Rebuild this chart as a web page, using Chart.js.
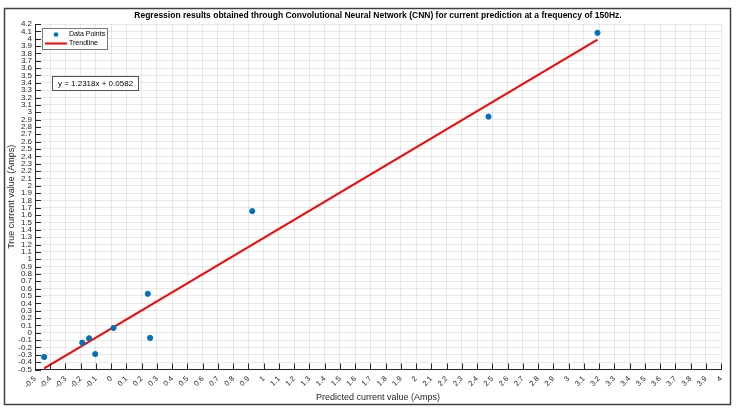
<!DOCTYPE html>
<html>
<head>
<meta charset="utf-8">
<script src="https://cdn.jsdelivr.net/npm/chart.js@4.4.1/dist/chart.umd.min.js"></script>
<style>
html, body { margin: 0; padding: 0; background: #fff; }
</style>
</head>
<body>
<canvas id="graphCanvas" width="736" height="412"></canvas>
<script>
// values
const predicted = [-0.44, -0.19, -0.145, -0.105, 0.015, 0.24, 0.255, 0.925, 2.475, 3.19];
const actual = [-0.33, -0.135, -0.075, -0.29, 0.065, 0.53, -0.07, 1.655, 2.94, 4.08];
const trendX = [-0.44, 3.19];
const trendY = [-0.484, 3.988];
const equationText = 'y = 1.2318x + 0.0582';

const FONT = '"Liberation Sans", Arial, Helvetica, sans-serif';
const AXIS = '#262626';

function fmt(v) {
    return String(Number(v.toFixed(1)));
}

// frame, title, legend, equation box and inward tick marks
const extras = {
    id: 'extras',
    afterDraw(chart) {
        const c = chart.ctx;
        const area = chart.chartArea;
        const xs = chart.scales.x, ys = chart.scales.y;
        c.save();

        // inward tick marks
        c.strokeStyle = AXIS;
        c.lineWidth = 1;
        c.beginPath();
        xs.ticks.forEach(t => {
            const px = Math.round(xs.getPixelForValue(t.value)) + 0.5;
            c.moveTo(px, area.bottom);
            c.lineTo(px, area.bottom - 6);
        });
        ys.ticks.forEach(t => {
            const py = Math.round(ys.getPixelForValue(t.value)) + 0.5;
            c.moveTo(area.left, py);
            c.lineTo(area.left + 6, py);
        });
        c.stroke();

        // figure border
        c.strokeStyle = '#404040';
        c.lineWidth = 1.5;
        c.strokeRect(4.5, 8.5, 726, 396);

        // title
        c.fillStyle = '#000';
        c.font = 'bold 8.5px ' + FONT;
        c.textAlign = 'center';
        c.textBaseline = 'middle';
        c.fillText('Regression results obtained through Convolutional Neural Network (CNN) for current prediction at a frequency of 150Hz.',
            (area.left + area.right) / 2, 16);

        // legend
        c.fillStyle = '#fff';
        c.fillRect(42.5, 28.5, 65, 21);
        c.strokeStyle = '#7a7a7a';
        c.lineWidth = 1;
        c.strokeRect(42.5, 28.5, 65, 21);
        c.fillStyle = '#0072BD';
        c.beginPath();
        c.arc(56, 34.5, 2.3, 0, Math.PI * 2);
        c.fill();
        c.strokeStyle = '#FF0000';
        c.lineWidth = 2;
        c.beginPath();
        c.moveTo(45, 43.5);
        c.lineTo(67, 43.5);
        c.stroke();
        c.fillStyle = '#000';
        c.font = '7px ' + FONT;
        c.textAlign = 'left';
        c.fillText('Data Points', 69, 34.5);
        c.fillText('Trendline', 69, 43.5);

        // equation box
        c.fillStyle = '#fff';
        c.fillRect(52.5, 76.5, 86, 14);
        c.strokeStyle = '#555';
        c.lineWidth = 1;
        c.strokeRect(52.5, 76.5, 86, 14);
        c.fillStyle = '#000';
        c.font = '8px ' + FONT;
        c.textAlign = 'center';
        c.fillText(equationText, 95.5, 83.5);

        c.restore();
    }
};

const ctx = document.getElementById('graphCanvas');

new Chart(ctx, {
    type: 'scatter',
    data: {
        datasets: [{
            label: 'Data Points',
            data: predicted.map((x, i) => ({ x: x, y: actual[i] })),
            backgroundColor: '#0072BD',
            borderColor: '#0072BD',
            pointRadius: 2.6,
            pointHoverRadius: 2.6,
            order: 1
        }, {
            label: 'Trendline',
            type: 'line',
            data: trendX.map((x, i) => ({ x: x, y: trendY[i] })),
            borderColor: '#FF0000',
            borderWidth: 2,
            pointRadius: 0,
            fill: false,
            order: 2
        }]
    },
    options: {
        responsive: false,
        animation: false,
        layout: {
            padding: { left: 5, right: 15, top: 24, bottom: 7 }
        },
        plugins: {
            legend: { display: false },
            title: { display: false },
            tooltip: { enabled: false }
        },
        scales: {
            x: {
                type: 'linear',
                min: -0.5,
                max: 4,
                afterFit: s => { s.height = 35.5; },
                border: { display: true, color: AXIS, width: 1 },
                grid: { color: 'rgba(38,38,38,0.1)', drawTicks: false },
                ticks: {
                    stepSize: 0.1,
                    autoSkip: false,
                    maxRotation: 45,
                    minRotation: 45,
                    padding: 5,
                    color: AXIS,
                    font: { family: FONT, size: 7.5 },
                    callback: v => fmt(v)
                },
                title: {
                    display: true,
                    text: 'Predicted current value (Amps)',
                    color: AXIS,
                    font: { family: FONT, size: 9 },
                    padding: { top: 0, bottom: 2.5 }
                }
            },
            y: {
                type: 'linear',
                min: -0.5,
                max: 4.2,
                afterFit: s => { s.width = 30; },
                border: { display: true, color: AXIS, width: 1 },
                grid: { color: 'rgba(38,38,38,0.1)', drawTicks: false },
                ticks: {
                    stepSize: 0.1,
                    autoSkip: false,
                    padding: 3,
                    color: AXIS,
                    font: { family: FONT, size: 8 },
                    callback: v => fmt(v)
                },
                title: {
                    display: true,
                    text: 'True current value (Amps)',
                    color: AXIS,
                    font: { family: FONT, size: 9 },
                    padding: { top: 1.5, bottom: 0 }
                }
            }
        }
    },
    plugins: [extras]
});
</script>
</body>
</html>
